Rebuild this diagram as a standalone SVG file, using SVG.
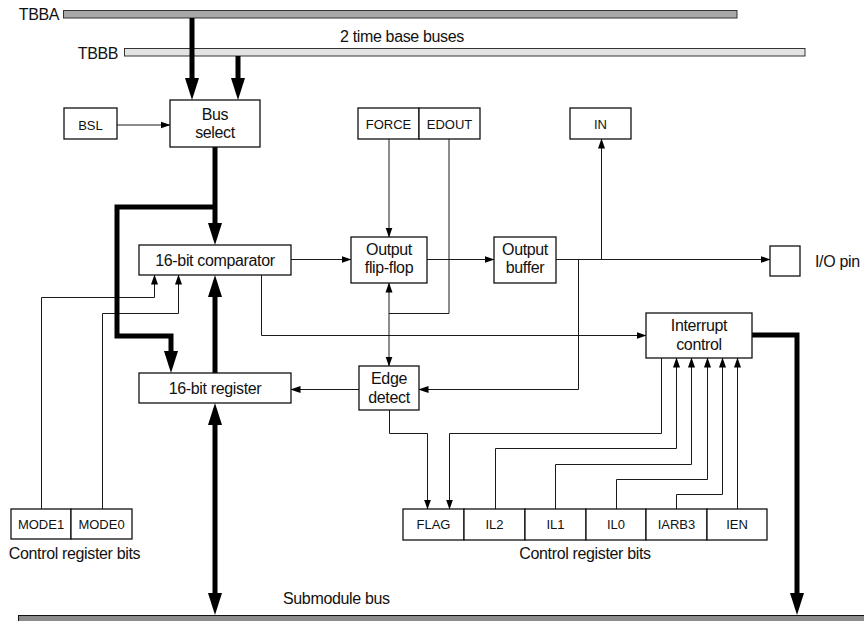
<svg xmlns="http://www.w3.org/2000/svg" width="864" height="621" viewBox="0 0 864 621">
<defs>
<style>
text{font-family:"Liberation Sans",Arial,sans-serif;fill:#111;text-anchor:middle}
.t15{font-size:16px;letter-spacing:-0.35px}
.t13{font-size:13px}
.box{fill:#fff;stroke:#111;stroke-width:1.3}
.thin{fill:none;stroke:#1a1a1a;stroke-width:1}
.thick{fill:none;stroke:#000;stroke-width:5;stroke-linejoin:miter}
</style>
<marker id="a" markerUnits="userSpaceOnUse" markerWidth="10" markerHeight="8" refX="9.5" refY="3.5" orient="auto-start-reverse" viewBox="0 0 10 7">
<path d="M0,0 L10,3.5 L0,7 z" fill="#000"/>
</marker>
<marker id="A" markerUnits="userSpaceOnUse" markerWidth="23" markerHeight="14" refX="0" refY="7" orient="auto-start-reverse" viewBox="0 0 23 14">
<path d="M0,0 L22,7 L0,14 z" fill="#000"/>
</marker>
</defs>
<rect width="864" height="621" fill="#fff"/>

<g id="tbba">
<rect x="63.5" y="10.5" width="673.5" height="7.5" fill="#a8a8a8" stroke="#333" stroke-width="1"/>
<text class="t15" x="39" y="20">TBBA</text>
</g>
<g id="tbbb">
<rect x="124.5" y="48.5" width="680.5" height="7.5" fill="#e3e3e3" stroke="#333" stroke-width="1"/>
<text class="t15" x="98" y="58.5">TBBB</text>
</g>
<text class="t15" x="402" y="41.5">2 time base buses</text>
<g id="submodule-bus">
<rect x="18.5" y="615.5" width="850" height="10" fill="#8c8c8c" stroke="#111" stroke-width="1"/>
<text class="t15" x="283" y="603.5" style="text-anchor:start">Submodule bus</text>
</g>

<g id="connectors">
<path class="thin" d="M117,125 H170" marker-end="url(#a)"/>
<path class="thin" d="M389,139 V237" marker-end="url(#a)"/>
<path class="thin" d="M449,139 V313.5 H389"/>
<path class="thin" d="M389,283 V366" marker-start="url(#a)" marker-end="url(#a)"/>
<path class="thin" d="M291,259.5 H351" marker-end="url(#a)"/>
<path class="thin" d="M427,259.5 H494" marker-end="url(#a)"/>
<path class="thin" d="M556,259.5 H770" marker-end="url(#a)"/>
<path class="thin" d="M601.5,259.5 V139" marker-end="url(#a)"/>
<path class="thin" d="M578.5,259.5 V389.5 H419" marker-end="url(#a)"/>
<path class="thin" d="M359,389.5 H291" marker-end="url(#a)"/>
<path class="thin" d="M261.5,275 V335.5 H646" marker-end="url(#a)"/>
<path class="thin" d="M41.5,509 V297.5 H154.5 V275" marker-end="url(#a)"/>
<path class="thin" d="M102.5,509 V313.5 H178.5 V275" marker-end="url(#a)"/>
<path class="thin" d="M389.5,410 V433.5 H427.5 V509" marker-end="url(#a)"/>
<path class="thin" d="M661.5,358 V433.5 H449.5 V509" marker-end="url(#a)"/>
<path class="thin" d="M495.5,509 V448.5 H676.5 V358" marker-end="url(#a)"/>
<path class="thin" d="M555.5,509 V464.5 H691.5 V358" marker-end="url(#a)"/>
<path class="thin" d="M616.5,509 V479.5 H707.5 V358" marker-end="url(#a)"/>
<path class="thin" d="M676.5,509 V494.5 H722.5 V358" marker-end="url(#a)"/>
<path class="thin" d="M737.5,509 V358" marker-end="url(#a)"/>

<path class="thick" d="M192,18 V78" marker-end="url(#A)"/>
<path class="thick" d="M238,56 V78" marker-end="url(#A)"/>
<path class="thick" d="M215,147 V223" marker-end="url(#A)"/>
<path class="thick" d="M215,207 H117 V336 H171 V351" marker-end="url(#A)"/>
<path class="thick" d="M215,373 V297" marker-end="url(#A)"/>
<path class="thick" d="M215,425 V593" marker-start="url(#A)" marker-end="url(#A)"/>
<path class="thick" d="M752,335 H797 V593" marker-end="url(#A)"/>
</g>

<g id="bsl"><rect class="box" x="64" y="108" width="53" height="31"/><text class="t13" x="90.5" y="129.5">BSL</text></g>
<g id="bus-select"><rect class="box" x="170" y="100" width="90" height="47"/><text class="t15" x="215" y="120">Bus</text><text class="t15" x="215" y="138">select</text></g>
<g id="force"><rect class="box" x="358" y="108" width="61" height="31"/><text class="t13" x="388.5" y="128.5">FORCE</text></g>
<g id="edout"><rect class="box" x="419" y="108" width="61" height="31"/><text class="t13" x="449.5" y="128.5">EDOUT</text></g>
<g id="in"><rect class="box" x="570" y="108" width="61" height="31"/><text class="t13" x="600.5" y="128.5">IN</text></g>
<g id="comparator"><rect class="box" x="139" y="245" width="152" height="30"/><text class="t15" x="215" y="266">16-bit comparator</text></g>
<g id="flip-flop"><rect class="box" x="351" y="237" width="76" height="46"/><text class="t15" x="389" y="255">Output</text><text class="t15" x="389" y="273">flip-flop</text></g>
<g id="output-buffer"><rect class="box" x="494" y="237" width="62" height="46"/><text class="t15" x="525" y="255">Output</text><text class="t15" x="525" y="273">buffer</text></g>
<g id="io-pin"><rect class="box" x="770" y="246" width="30" height="30"/><text class="t15" x="815" y="267" style="text-anchor:start">I/O pin</text></g>
<g id="interrupt-control"><rect class="box" x="646" y="313" width="106" height="45"/><text class="t15" x="699" y="331">Interrupt</text><text class="t15" x="699" y="350">control</text></g>
<g id="register"><rect class="box" x="139" y="373" width="152" height="30"/><text class="t15" x="215" y="394">16-bit register</text></g>
<g id="edge-detect"><rect class="box" x="359" y="366" width="60" height="44"/><text class="t15" x="389" y="384">Edge</text><text class="t15" x="389" y="402.5">detect</text></g>

<g id="mode-bits">
<rect class="box" x="11" y="509" width="60" height="30"/><text class="t13" x="41" y="528.5">MODE1</text>
<rect class="box" x="71" y="509" width="61" height="30"/><text class="t13" x="101.5" y="528.5">MODE0</text>
<text class="t15" x="74.5" y="559">Control register bits</text>
</g>
<g id="int-bits">
<rect class="box" x="403" y="509" width="61" height="31"/><text class="t13" x="433.5" y="529">FLAG</text>
<rect class="box" x="464" y="509" width="61" height="31"/><text class="t13" x="494.5" y="529">IL2</text>
<rect class="box" x="525" y="509" width="61" height="31"/><text class="t13" x="555.5" y="529">IL1</text>
<rect class="box" x="586" y="509" width="60" height="31"/><text class="t13" x="616" y="529">IL0</text>
<rect class="box" x="646" y="509" width="61" height="31"/><text class="t13" x="676.5" y="529">IARB3</text>
<rect class="box" x="707" y="509" width="60" height="31"/><text class="t13" x="737" y="529">IEN</text>
<text class="t15" x="585" y="559">Control register bits</text>
</g>
</svg>
